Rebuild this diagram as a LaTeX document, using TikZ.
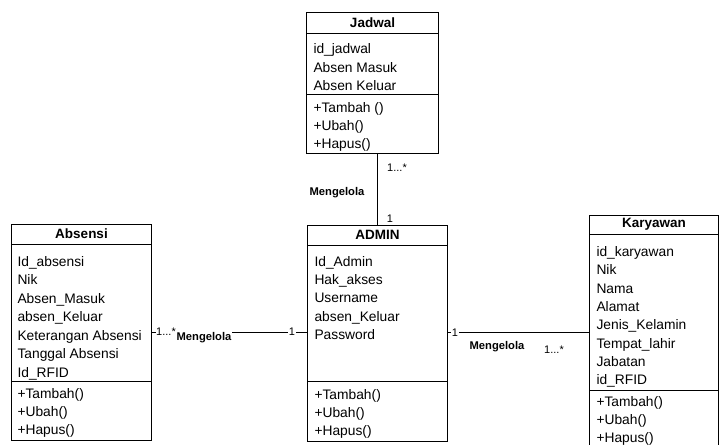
\documentclass[tikz,border=0pt]{standalone}
\usepackage{fontspec}
\setmainfont{Liberation Sans}
\usepackage{tikz}

\begin{document}
\begin{tikzpicture}[x=1pt,y=-1pt,line width=1pt]

    \useasboundingbox (0,0) rectangle (722,444);

    % class boxes
    \begin{scope}[every node/.style={draw,rectangle,inner sep=0pt,anchor=north west}]
        \node[minimum width=132,minimum height=141] (jadwal) at (306,12) {};
        \node[minimum width=140,minimum height=216] (admin) at (307,225) {};
        \node[minimum width=140,minimum height=216] (absensi) at (11,224) {};
        \node[minimum width=129,minimum height=237] (karyawan) at (589,215) {}; % runs off the page
    \end{scope}

    % header and operation separators
    \draw (jadwal.west |- 0,34) -- (jadwal.east |- 0,34);
    \draw (jadwal.west |- 0,94) -- (jadwal.east |- 0,94);
    \draw (admin.west |- 0,245) -- (admin.east |- 0,245);
    \draw (admin.west |- 0,381) -- (admin.east |- 0,381);
    \draw (absensi.west |- 0,244) -- (absensi.east |- 0,244);
    \draw (absensi.west |- 0,381) -- (absensi.east |- 0,381);
    \draw (karyawan.west |- 0,234) -- (karyawan.east |- 0,234);
    \draw (karyawan.west |- 0,390) -- (karyawan.east |- 0,390);

    % class names
    \begin{scope}[every node/.style={inner sep=0pt,font=\bfseries\fontsize{13.5}{16}\selectfont}]
        \node (jadwal-t) at (jadwal.north |- 0,23) {Jadwal};
        \node (admin-t) at (admin.north |- 0,235) {ADMIN};
        \node (absensi-t) at (absensi.north |- 0,234) {Absensi};
        \node (karyawan-t) at (karyawan.north |- 0,224) {Karyawan};
    \end{scope}

    % attributes and operations
    \begin{scope}[every node/.style={inner sep=0pt,anchor=base west,font=\fontsize{13.8}{16}\selectfont}]
        \foreach \a [count=\i from 0] in {id\_jadwal,Absen Masuk,Absen Keluar}
            \node (jadwal-a\i) at (313,54+18.3*\i) {\a};
        \foreach \a [count=\i from 0] in {+Tambah (),+Ubah(),+Hapus()}
            \node (jadwal-o\i) at (313,112+18*\i) {\a};

        \foreach \a [count=\i from 0] in {Id\_Admin,Hak\_akses,Username,absen\_Keluar,Password}
            \node (admin-a\i) at (314,266.5+18.2*\i) {\a};
        \foreach \a [count=\i from 0] in {+Tambah(),+Ubah(),+Hapus()}
            \node (admin-o\i) at (314,399+18*\i) {\a};

        \foreach \a [count=\i from 0] in {Id\_absensi,Nik,Absen\_Masuk,absen\_Keluar,Keterangan Absensi,Tanggal Absensi,Id\_RFID}
            \node (absensi-a\i) at (17,266+18.5*\i) {\a};
        \foreach \a [count=\i from 0] in {+Tambah(),+Ubah(),+Hapus()}
            \node (absensi-o\i) at (17,398+18*\i) {\a};

        \foreach \a [count=\i from 0] in {id\_karyawan,Nik,Nama,Alamat,Jenis\_Kelamin,Tempat\_lahir,Jabatan,id\_RFID}
            \node (karyawan-a\i) at (596,256.5+18.3*\i) {\a};
        \foreach \a [count=\i from 0] in {+Tambah(),+Ubah(),+Hapus()}
            \node (karyawan-o\i) at (596,406.5+18*\i) {\a};
    \end{scope}

    % associations
    \coordinate (lnk) at (0,332);
    \draw (admin.north) -- (admin.north |- jadwal.south);
    \draw (absensi.east |- lnk) -- (admin.west |- lnk);
    \draw (admin.east |- lnk) -- (karyawan.west |- lnk);

    \begin{scope}[every node/.style={fill=white,inner sep=1pt,font=\bfseries\fontsize{11.2}{13}\selectfont}]
        \node (m-top) at (337,193) {Mengelola};
        \node (m-left) at (204,338) {Mengelola};
        \node (m-right) at (497,347) {Mengelola};
    \end{scope}

    \begin{scope}[every node/.style={fill=white,inner sep=0.5pt,font=\fontsize{11}{13}\selectfont}]
        \node[fill=none] (c-top1) at (397,168) {1...*};
        \node[fill=none] (c-top2) at (390,219) {1};
        \node (c-left1) at (166,332) {1...*};
        \node (c-left2) at (292,332) {1};
        \node (c-right1) at (455,333) {1};
        \node[fill=none] (c-right2) at (554,350) {1...*};
    \end{scope}

\end{tikzpicture}
\end{document}
